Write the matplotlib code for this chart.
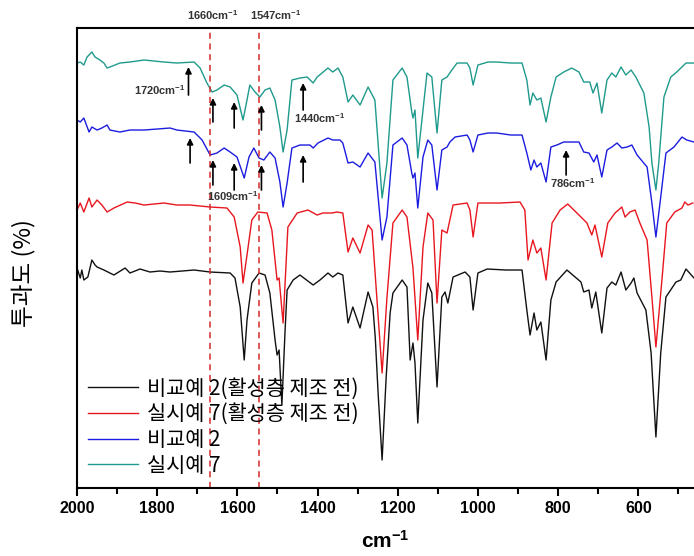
import matplotlib
matplotlib.use("Agg")
import matplotlib.pyplot as plt
from matplotlib.ticker import MultipleLocator

plt.rcParams["mathtext.default"] = "regular"

# ---------------------------------------------------------------------------
# Spectra: wavenumber (cm-1) and stacked transmittance
# (arbitrary units, traces already offset as in the original figure)
# ---------------------------------------------------------------------------
black_wn = [2000, 1992, 1988, 1983, 1973, 1963, 1955, 1950, 1933, 1908, 1880, 1868, 1843,
            1818, 1793, 1768, 1738, 1708, 1668, 1618, 1606, 1593, 1583, 1576, 1564, 1546,
            1531, 1519, 1506, 1501, 1496, 1489, 1481, 1476, 1461, 1444, 1411, 1394, 1374,
            1362, 1349, 1337, 1324, 1312, 1294, 1274, 1262, 1256, 1249, 1239, 1229, 1219,
            1212, 1189, 1177, 1169, 1162, 1157, 1150, 1137, 1125, 1115, 1102, 1090, 1082,
            1075, 1062, 1032, 1020, 1012, 1000, 977, 930, 890, 878, 870, 860, 853, 843,
            830, 818, 805, 778, 743, 736, 723, 716, 706, 691, 678, 666, 656, 643, 631, 618,
            611, 603, 581, 568, 556, 544, 531, 506, 494, 481, 461]
black_t = [220, 210, 218, 208, 211, 228, 223, 221, 218, 213, 220, 215, 219,
           216, 217, 216, 217, 218, 216, 215, 210, 181, 128, 168, 205, 215,
           213, 195, 148, 133, 138, 83, 158, 198, 208, 213, 203, 208, 215,
           211, 215, 213, 165, 181, 160, 196, 181, 150, 95, 28, 110, 175,
           195, 208, 201, 128, 145, 125, 65, 168, 205, 195, 101, 191, 196,
           185, 211, 216, 211, 178, 215, 219, 218, 218, 178, 153, 175, 158, 166,
           128, 188, 206, 218, 206, 196, 198, 180, 196, 155, 200, 206, 203, 216, 198, 205,
           210, 195, 178, 135, 51, 135, 191, 206, 208, 219, 210]

red_wn = [2000, 1992, 1983, 1970, 1963, 1950, 1938, 1925, 1908, 1875, 1855, 1833, 1783,
          1751, 1718, 1668, 1626, 1608, 1593, 1586, 1576, 1564, 1549, 1526, 1514, 1501,
          1496, 1486, 1474, 1451, 1424, 1401, 1387, 1364, 1352, 1337, 1324, 1312, 1294,
          1274, 1264, 1239, 1227, 1212, 1189, 1177, 1162, 1150, 1137, 1125, 1112, 1102,
          1090, 1077, 1062, 1027, 1020, 1012, 1000, 945, 895, 883, 875, 863, 853, 843,
          830, 815, 795, 776, 753, 728, 716, 708, 691, 676, 658, 641, 633, 621, 608, 596,
          578, 566, 556, 541, 529, 509, 491, 484, 476, 464]
red_t = [278, 285, 276, 290, 281, 288, 283, 276, 280, 286, 285, 283, 285,
         283, 283, 281, 280, 271, 241, 205, 233, 268, 276, 275, 258, 208,
         210, 165, 261, 275, 278, 273, 275, 275, 276, 275, 236, 250, 235,
         263, 258, 115, 190, 265, 278, 271, 220, 148, 241, 275, 268, 185,
         258, 255, 283, 285, 278, 251, 285, 285, 286, 278, 228, 248, 235, 240,
         208, 265, 278, 284, 275, 265, 253, 263, 231, 265, 275, 281, 271, 276, 278, 265,
         248, 191, 141, 208, 265, 276, 280, 286, 283, 285]

blue_wn = [2000, 1992, 1983, 1970, 1963, 1950, 1938, 1925, 1918, 1893, 1868, 1833, 1800,
           1768, 1751, 1708, 1688, 1668, 1651, 1633, 1618, 1601, 1583, 1571, 1559, 1546,
           1534, 1519, 1506, 1494, 1486, 1476, 1464, 1444, 1419, 1411, 1399, 1374, 1362,
           1344, 1337, 1324, 1312, 1294, 1274, 1257, 1239, 1227, 1212, 1189, 1177, 1165,
           1162, 1157, 1150, 1137, 1125, 1115, 1102, 1090, 1077, 1070, 1057, 1027, 1020,
           1012, 1000, 975, 953, 918, 890, 878, 868, 860, 853, 843, 830, 818, 803, 786,
           768, 748, 736, 723, 711, 703, 691, 678, 666, 653, 641, 628, 616, 603, 578, 566,
           556, 544, 531, 511, 491, 479, 461]
blue_t = [368, 366, 370, 356, 361, 358, 360, 363, 358, 356, 358, 358, 359,
          360, 358, 356, 348, 333, 335, 340, 336, 331, 310, 331, 340, 330,
          328, 336, 330, 306, 281, 305, 340, 343, 343, 340, 345, 350, 348,
          348, 345, 325, 326, 321, 335, 326, 248, 271, 343, 350, 343, 315,
          310, 315, 280, 331, 348, 343, 298, 338, 341, 346, 351, 353, 348,
          336, 353, 355, 355, 353, 353, 335, 318, 328, 321, 325, 306, 341, 343, 346,
          346, 346, 336, 335, 326, 333, 311, 338, 341, 345, 340, 341, 343, 333, 321, 285,
          251, 291, 335, 341, 351, 348, 346]

teal_wn = [2000, 1992, 1983, 1975, 1963, 1955, 1943, 1933, 1925, 1918, 1893, 1868, 1833,
           1783, 1751, 1708, 1693, 1676, 1663, 1651, 1633, 1618, 1601, 1586, 1576, 1569,
           1556, 1544, 1531, 1519, 1506, 1494, 1486, 1476, 1464, 1444, 1426, 1411, 1401,
           1374, 1362, 1349, 1337, 1324, 1312, 1294, 1274, 1257, 1239, 1227, 1212, 1189,
           1177, 1165, 1162, 1157, 1150, 1137, 1127, 1115, 1102, 1090, 1077, 1065, 1052,
           1027, 1020, 1012, 1000, 975, 953, 918, 890, 878, 870, 863, 853, 843, 830, 818,
           805, 786, 766, 748, 736, 721, 713, 703, 691, 678, 666, 656, 643, 631, 618, 606,
           586, 573, 566, 556, 549, 536, 519, 504, 481, 461]
teal_t = [425, 426, 423, 431, 436, 431, 428, 425, 420, 421, 425, 426, 428,
          426, 425, 426, 420, 405, 396, 398, 403, 401, 393, 368, 388, 403,
          396, 391, 398, 400, 388, 361, 336, 358, 408, 410, 411, 405, 411,
          420, 416, 420, 411, 386, 393, 383, 401, 388, 290, 325, 408, 420,
          411, 376, 370, 378, 330, 378, 415, 411, 355, 408, 411, 418, 425,
          425, 420, 403, 423, 426, 426, 425, 425, 408, 383, 395, 388, 390, 366, 391,
          411, 416, 420, 416, 406, 406, 395, 405, 375, 408, 415, 411, 421, 413, 418, 411,
          395, 361, 325, 298, 325, 391, 411, 416, 425, 425]

labels = ["비교예 2(활성층 제조 전)", "실시예 7(활성층 제조 전)", "비교예 2", "실시예 7"]
colors = ["#111111", "#e8161e", "#1c1ce0", "#1f9a8c"]

# dashed reference lines
ref_wn = [1668, 1547]
ref_labels = ["1660cm$^{-1}$", "1547cm$^{-1}$"]
ref_label_wn = [1661, 1504]

# peak arrows: position, tail and head heights
teal_arrow_wn = [1722, 1661, 1608, 1540, 1436]
teal_arrow_tail = [393, 366, 360, 358, 378]
teal_arrow_head = [421, 390, 386, 383, 405]
blue_arrow_wn = [1718, 1661, 1608, 1540, 1436, 780]
blue_arrow_tail = [325, 303, 298, 298, 306, 313]
blue_arrow_head = [350, 328, 325, 323, 333, 338]

peak_labels = ["1720cm$^{-1}$", "1440cm$^{-1}$", "1609cm$^{-1}$", "786cm$^{-1}$"]
peak_label_wn = [1793, 1394, 1611, 763]
peak_label_t = [398, 370, 292, 305]

# ---------------------------------------------------------------------------
fig = plt.figure(figsize=(6.94, 5.56), dpi=100)
ax = fig.add_axes([0.111, 0.1223, 0.889, 0.8273])

series = [(black_wn, black_t), (red_wn, red_t), (blue_wn, blue_t), (teal_wn, teal_t)]
for (wn, t), c, lab in zip(series, colors, labels):
    ax.plot(wn, t, color=c, lw=1.0, label=lab)

for x in ref_wn:
    ax.axvline(x, color="#d42a2a", lw=1.1, ls=(0, (4, 3)))

bold = dict(family="Liberation Sans", weight="bold")
for x, s in zip(ref_label_wn, ref_labels):
    ax.text(x, 473, s, ha="center", va="center", fontsize=8, color="#333333", **bold)

arrowprops = dict(arrowstyle="-|>", color="black", lw=1.2, mutation_scale=9,
                  shrinkA=0, shrinkB=0)
for wn, t0, t1 in zip(teal_arrow_wn + blue_arrow_wn,
                      teal_arrow_tail + blue_arrow_tail,
                      teal_arrow_head + blue_arrow_head):
    ax.annotate("", xy=(wn, t1), xytext=(wn, t0), arrowprops=arrowprops)

for x, y, s in zip(peak_label_wn, peak_label_t, peak_labels):
    ax.text(x, y, s, ha="center", va="center", fontsize=8, color="#333333", **bold)

ax.set_xlim(2000, 461)
ax.set_ylim(0, 460)
ax.xaxis.set_major_locator(MultipleLocator(200))
ax.xaxis.set_minor_locator(MultipleLocator(100))
ax.tick_params(axis="x", which="major", direction="out", length=6, width=1.5)
ax.tick_params(axis="x", which="minor", direction="out", length=4, width=1.5)
ax.set_yticks([])
for lab in ax.get_xticklabels():
    lab.set_fontproperties(matplotlib.font_manager.FontProperties(size=11.5, **bold))
for side in ["left", "bottom", "top"]:
    ax.spines[side].set_linewidth(1.5)
ax.spines["right"].set_visible(False)

ax.set_xlabel("cm$^{-1}$", fontsize=15, labelpad=10, **bold)
ax.set_ylabel("투과도 (%)", fontsize=17, family=["Noto Sans CJK KR", "DejaVu Sans"])
ax.yaxis.set_label_coords(-0.068, 0.467)

leg = ax.legend(loc="lower left", frameon=False, handlelength=2.4, handletextpad=0.4,
                labelspacing=0.18, borderaxespad=0.15,
                prop=dict(family=["Noto Sans CJK KR", "DejaVu Sans"], size=15))

fig.savefig("out.png", dpi=100)
